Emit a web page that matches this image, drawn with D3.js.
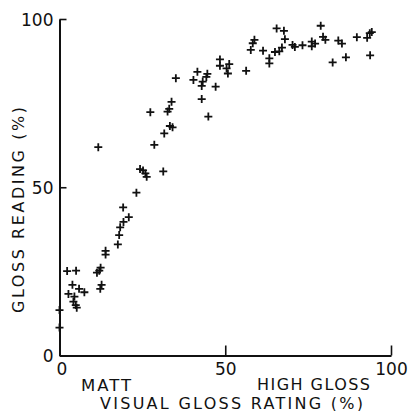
<!DOCTYPE html>
<html>
<head>
<meta charset="utf-8">
<script src="https://cdn.jsdelivr.net/npm/d3@7"></script>
<style>
  body { margin: 0; background: #fff; }
  text { font-family: "DejaVu Sans", "Liberation Sans", sans-serif; fill: #111; }
</style>
</head>
<body>
<div id="chart"></div>
<script>
// visual gloss rating (%) vs gloss reading (%)
const visualRating = [
  0, 0, 2.3, 5.0, 3.9, 5.9, 7.5, 2.7, 4.5, 4.2, 4.9, 5.2,
  11.3, 12.0, 12.4, 12.7, 12.3, 13.9, 13.9, 17.6, 18.0, 18.3, 19.3, 20.9,
  19.2, 23.2, 11.7, 24.3, 25.2, 25.9, 26.3, 31.3, 28.6, 31.6, 33.3, 34.1,
  27.4, 32.6, 33.1, 33.8, 35.1, 42.9, 44.9, 40.4, 41.6, 43.2, 42.9, 44.3,
  44.6, 47.1, 48.4, 48.4, 51.2, 50.4, 50.8, 56.3, 57.7, 58.3, 58.8, 61.4,
  63.3, 63.3, 65.0, 66.3, 67.1, 65.5, 67.7, 68.0, 70.3, 71.0, 73.3, 76.1,
  76.1, 77.1, 78.8, 79.5, 80.2, 82.4, 84.1, 85.2, 86.4, 89.7, 92.8, 93.6,
  94.2, 93.7
];
const glossReading = [
  13.5, 8.3, 25.1, 25.2, 21.0, 19.8, 18.8, 18.3, 17.5, 16.0, 15.0, 14.2,
  24.6, 25.2, 26.1, 21.0, 19.8, 31.1, 30.0, 33.0, 35.8, 38.1, 39.7, 41.1,
  44.0, 48.4, 61.9, 55.4, 55.0, 54.1, 53.1, 54.7, 62.6, 66.0, 68.2, 67.8,
  72.3, 72.5, 73.3, 75.4, 82.4, 76.2, 71.0, 81.9, 84.3, 81.4, 80.1, 82.8,
  83.7, 79.9, 88.0, 86.1, 86.6, 85.3, 83.8, 84.6, 90.8, 92.8, 93.8, 90.6,
  88.3, 86.8, 90.2, 90.4, 91.5, 97.2, 96.5, 94.0, 92.3, 91.7, 92.2, 93.3,
  91.9, 92.7, 98.0, 94.7, 93.8, 87.1, 93.6, 92.7, 88.6, 94.6, 94.4, 95.8,
  96.1, 89.2
];
const xTicks = [0, 50, 100];
const yTicks = [0, 50, 100];
const xTitle = "VISUAL GLOSS RATING (%)";
const yTitle = "GLOSS READING (%)";
const lowLabel = "MATT";
const highLabel = "HIGH GLOSS";

const W = 408, H = 411;
const margin = { top: 19, right: 17, bottom: 55.5, left: 59.5 };

const svg = d3.select("#chart").append("svg")
  .attr("width", W).attr("height", H);

const x = d3.scaleLinear().domain([0, 100]).range([margin.left, W - margin.right]);
const y = d3.scaleLinear().domain([0, 100]).range([H - margin.bottom, margin.top]);

// axes: ticks point inward
const xAxis = svg.append("g")
  .attr("transform", `translate(0,${y(0)})`)
  .call(d3.axisBottom(x).tickValues(xTicks).tickSize(-10).tickSizeOuter(0).tickPadding(7));
const yAxis = svg.append("g")
  .attr("transform", `translate(${x(0)},0)`)
  .call(d3.axisLeft(y).tickValues(yTicks).tickSize(-7).tickSizeOuter(0).tickPadding(6));

[xAxis, yAxis].forEach(g => {
  g.select(".domain").attr("stroke", "#111").attr("stroke-width", 2);
  g.selectAll(".tick line").attr("stroke", "#111").attr("stroke-width", 1.6);
  g.selectAll(".tick text")
    .style("font-family", "'DejaVu Sans', sans-serif")
    .attr("font-size", 17).attr("fill", "#111");
});
xAxis.select(".tick line").remove();  // no tick at the origin on x
yAxis.selectAll(".tick text").attr("dy", "0.36em");
xAxis.selectAll(".tick text").attr("dy", "0.75em").attr("dx", d => d === 0 ? 2 : 0);

// points drawn as "+"
const pts = visualRating.map((v, i) => ({ v, g: glossReading[i] }));
const s = 4;
svg.append("g").selectAll("path")
  .data(pts)
  .join("path")
  .attr("d", d => {
    const cx = x(d.v), cy = y(d.g);
    return `M${cx - s},${cy}H${cx + s}M${cx},${cy - s}V${cy + s}`;
  })
  .attr("stroke", "#111")
  .attr("stroke-width", 1.8)
  .attr("fill", "none");

// axis titles
svg.append("text")
  .attr("x", 81).attr("y", 391)
  .attr("font-size", 16.5)
  .attr("textLength", 50).attr("lengthAdjust", "spacing")
  .text(lowLabel);
svg.append("text")
  .attr("x", 257).attr("y", 389.5)
  .attr("font-size", 16)
  .attr("textLength", 113).attr("lengthAdjust", "spacing")
  .text(highLabel);
svg.append("text")
  .attr("x", 100).attr("y", 408.5)
  .attr("font-size", 16)
  .attr("textLength", 263).attr("lengthAdjust", "spacing")
  .text(xTitle);
svg.append("text")
  .attr("transform", "translate(23.5,210) rotate(-90)")
  .attr("text-anchor", "middle")
  .attr("font-size", 16)
  .attr("textLength", 206).attr("lengthAdjust", "spacing")
  .text(yTitle);
</script>
</body>
</html>
